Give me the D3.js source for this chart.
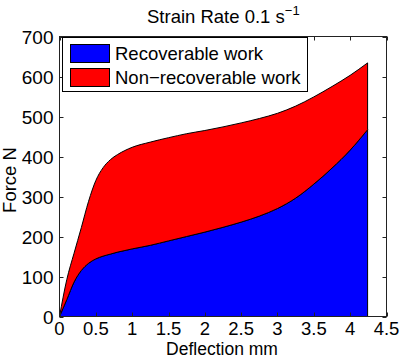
<!DOCTYPE html>
<html><head><meta charset="utf-8">
<script src="https://cdn.jsdelivr.net/npm/d3@7"></script>
<style>body{margin:0;background:#fff}svg{display:block}text{font-family:"Liberation Sans",Arial,sans-serif;fill:#000}</style>
</head><body><svg id="c" width="400" height="359"></svg>
<script>
const deflection = [0,0.1,0.2,0.3,0.4,0.5,0.6,0.7,0.8,0.9,1.0,1.25,1.5,1.75,2.0,2.25,2.5,2.75,3.0,3.25,3.5,3.75,4.0,4.24];
const recoverable = [0,42,86,115,133,144,151,156,161,165,169,178,189,200,211,223,236,251,270,296,331,371,416,467];
const totalWork = [0,92,158,222,288,340,372,392,405,415,423,436,447,457,465,474,484,495,508,526,549,575,603,634];
const xTicks = [0,0.5,1,1.5,2,2.5,3,3.5,4,4.5];
const yTicks = [0,100,200,300,400,500,600,700];
const legendLabels = ["Recoverable work","Non\u2212recoverable work"];
const colors = ["#0000ff","#ff0000"];

const svg = d3.select("#c");
const L=59.5, R=386.5, T=36.5, B=316.5;
const x = d3.scaleLinear().domain([0,4.5]).range([L,R]);
const y = d3.scaleLinear().domain([0,700]).range([B,T]);
const data = deflection.map((d,i)=>({x:d,r:recoverable[i],t:totalWork[i]}));
const curve = d3.curveMonotoneX;

const redArea = d3.area().x(d=>x(d.x)).y0(d=>y(d.r)).y1(d=>y(d.t)).curve(curve);
const blueArea = d3.area().x(d=>x(d.x)).y0(y(0)).y1(d=>y(d.r)).curve(curve);
svg.append("path").attr("d",blueArea(data)).attr("fill",colors[0]).attr("stroke","#000").attr("stroke-width",1);
svg.append("path").attr("d",redArea(data)).attr("fill",colors[1]).attr("stroke","#000").attr("stroke-width",1);

const g = svg.append("g");
g.append("rect").attr("x",L).attr("y",T).attr("width",R-L).attr("height",B-T).attr("fill","none").attr("stroke","#222").attr("stroke-width",1);
const tl=4;
xTicks.forEach(v=>{
  const px=Math.round(x(v))+0.5;
  g.append("line").attr("x1",px).attr("x2",px).attr("y1",B).attr("y2",B-tl).attr("stroke","#222");
  g.append("line").attr("x1",px).attr("x2",px).attr("y1",T).attr("y2",T+tl).attr("stroke","#222");
  g.append("text").attr("x",x(v)).attr("y",335).attr("text-anchor","middle").style("font-size","18.5px").text(v);
});
yTicks.forEach(v=>{
  const py=Math.round(y(v))+0.5;
  g.append("line").attr("x1",L).attr("x2",L+tl).attr("y1",py).attr("y2",py).attr("stroke","#222");
  g.append("line").attr("x1",R).attr("x2",R-tl).attr("y1",py).attr("y2",py).attr("stroke","#222");
  g.append("text").attr("x",L-6).attr("y",y(v)+7).attr("text-anchor","end").style("font-size","19px").text(v);
});

svg.append("text").attr("x",222).attr("y",355).attr("text-anchor","middle").style("font-size","17.5px").text("Deflection mm");
svg.append("text").attr("transform","translate(16,180) rotate(-90)").attr("text-anchor","middle").style("font-size","18.5px").text("Force N");
const title = svg.append("text").attr("x",147).attr("y",23).style("font-size","18.5px");
title.append("tspan").text("Strain Rate 0.1 s");
title.append("tspan").attr("dy",-8).style("font-size","13px").text("\u22121");

const lg = svg.append("g");
lg.append("rect").attr("x",62.5).attr("y",37.5).attr("width",245).attr("height",54).attr("fill","#fff").attr("stroke","#000");
legendLabels.forEach((lab,i)=>{
  const yy = 44.5 + i*24;
  lg.append("rect").attr("x",70.5).attr("y",yy).attr("width",39).attr("height",18).attr("fill",colors[i]).attr("stroke","#000");
  lg.append("text").attr("x",115).attr("y",yy+15).style("font-size","18.5px").text(lab);
});
</script></body></html>
